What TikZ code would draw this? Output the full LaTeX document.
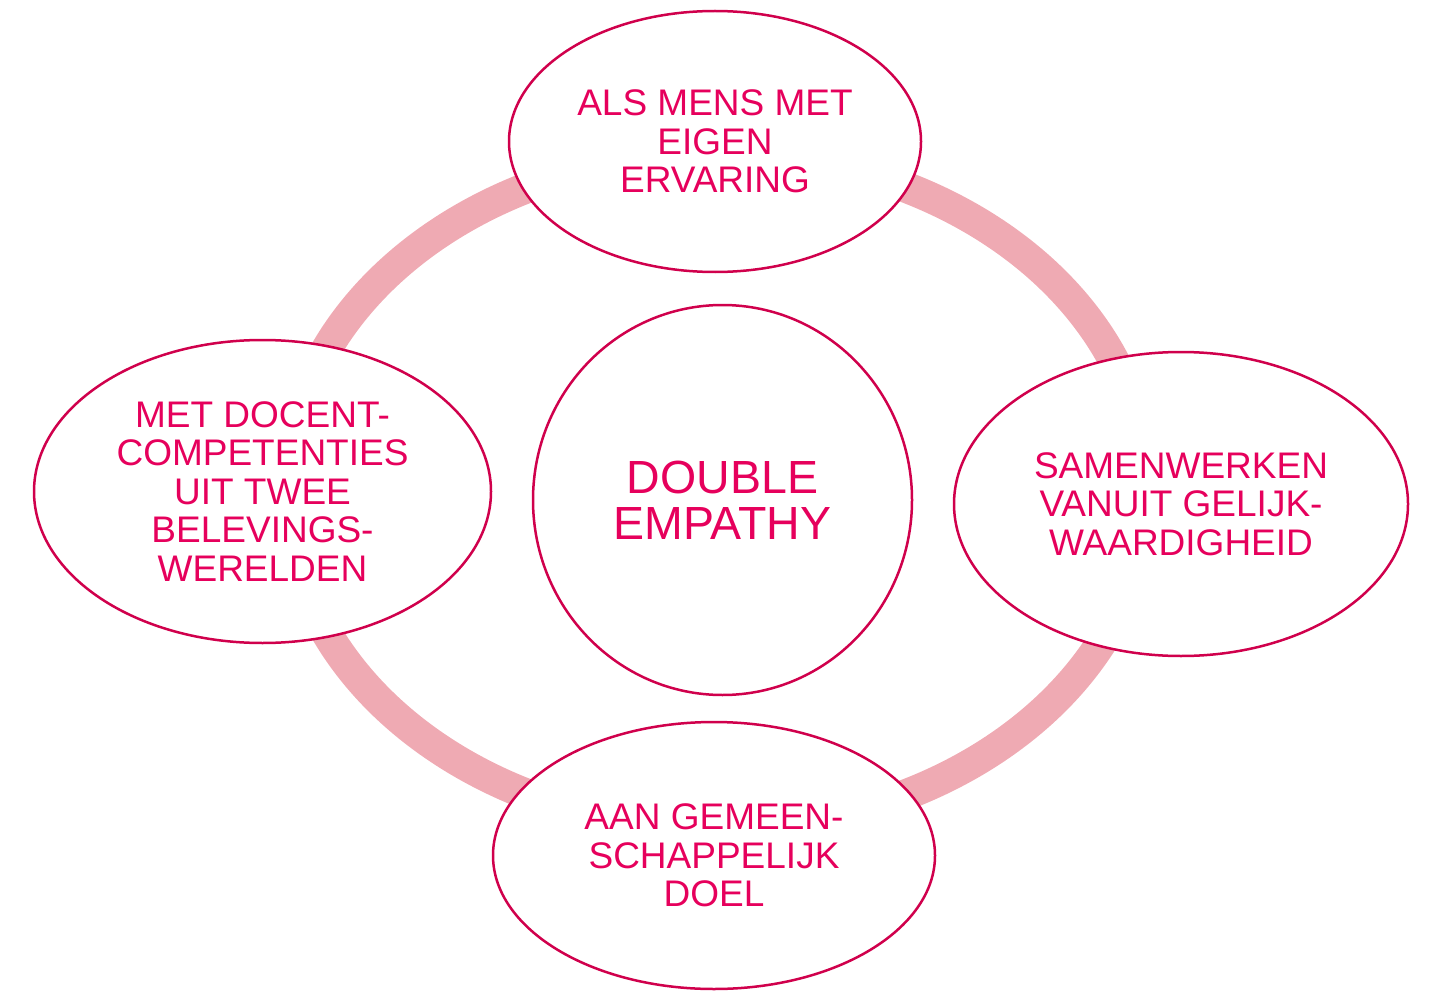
\documentclass[tikz,border=0pt]{standalone}
\usepackage{fontspec}
\setmainfont{Liberation Sans}
\usetikzlibrary{shapes.geometric}
\definecolor{edgec}{RGB}{208,0,76}
\definecolor{textc}{RGB}{230,0,92}
\definecolor{ringc}{RGB}{239,170,179}
\tikzset{
  bubble/.style={ellipse, draw=edgec, line width=2.5pt, fill=white, inner sep=0pt,
    text=textc, align=center, font=\fontsize{37}{38.5}\selectfont},
  centerbubble/.style={bubble, font=\fontsize{46.5}{46}\selectfont},
  ringstyle/.style={ellipse, draw=ringc, line width=31pt, inner sep=0pt}
}
\begin{document}
\begin{tikzpicture}[x=1pt,y=-1pt]
\useasboundingbox (0,0) rectangle (1434,992);
\node[ringstyle, minimum width=860pt, minimum height=676pt] (ring) at (717,491) {};
\node[bubble, minimum width=412pt, minimum height=261pt] (top) at (715,141.5) {ALS MENS MET\\EIGEN\\ERVARING};
\node[bubble, minimum width=454pt, minimum height=304pt] (right) at (1181,504) {SAMENWERKEN\\VANUIT GELIJK-\\WAARDIGHEID};
\node[bubble, minimum width=442pt, minimum height=267pt] (bottom) at (714,855.5) {AAN GEMEEN-\\SCHAPPELIJK\\DOEL};
\node[bubble, minimum width=457pt, minimum height=303pt] (left) at (262.5,491.5) {MET DOCENT-\\COMPETENTIES\\UIT TWEE\\BELEVINGS-\\WERELDEN};
\node[centerbubble, minimum width=379pt, minimum height=390pt] (center) at (722.5,500) {DOUBLE\\EMPATHY};
\end{tikzpicture}
\end{document}
